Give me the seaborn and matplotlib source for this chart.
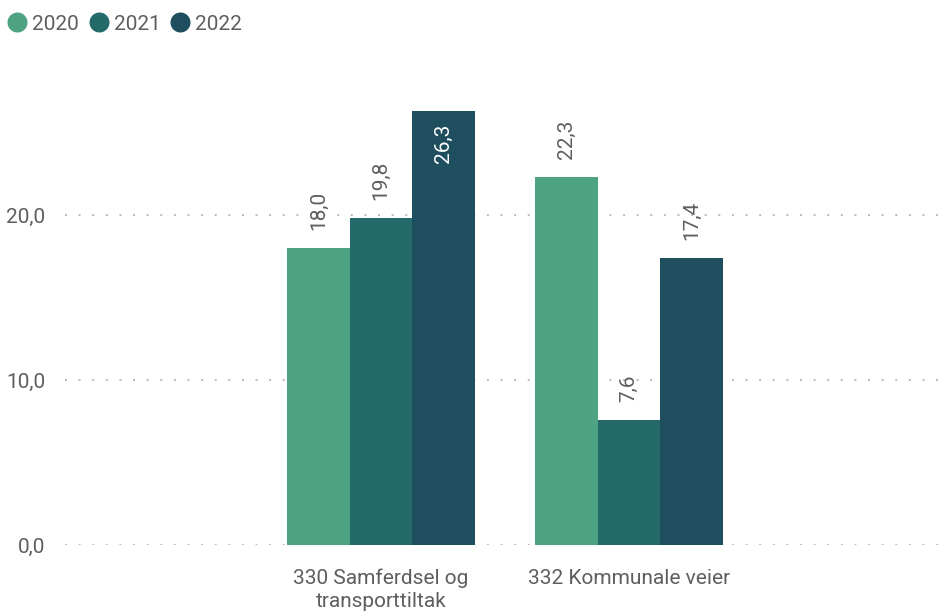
import matplotlib
matplotlib.use("Agg")
import matplotlib.pyplot as plt
from matplotlib.lines import Line2D
import seaborn as sns
import pandas as pd

# data
categories = ["330 Samferdsel og\ntransporttiltak", "332 Kommunale veier"]
years = ["2020", "2021", "2022"]
values_2020 = [18.0, 22.3]
values_2021 = [19.8, 7.6]
values_2022 = [26.3, 17.4]
y_ticks = [0, 10, 20]

colors = ["#4EA383", "#246A6B", "#1F4E5F"]
text_color = "#605E5C"
fs = 15

rows = []
for yr, vals in zip(years, [values_2020, values_2021, values_2022]):
    for cat, v in zip(categories, vals):
        rows.append({"Kategori": cat, "År": yr, "Verdi": v})
df = pd.DataFrame(rows)

sns.set_style("white")
plt.rcParams["font.family"] = ["Roboto", "DejaVu Sans"]

fig = plt.figure(figsize=(9.51, 6.14), dpi=100)
ax = fig.add_axes([65 / 951, 69 / 614, 880 / 951, 485 / 614])

sns.barplot(data=df, x="Kategori", y="Verdi", hue="År", order=categories,
            hue_order=years, palette=colors, width=0.756, gap=0,
            saturation=1, linewidth=0, ax=ax, legend=False)

ymax = 29.4
ax.set_ylim(0, ymax)
ax.set_xlim(-1.274, 2.274)

for y in y_ticks:
    ax.axhline(y, color="#BDBBB9", linewidth=1.4, linestyle=(0, (1, 6)), zorder=0)

# data labels
for cont in ax.containers:
    for bar in cont:
        h = bar.get_height()
        xc = bar.get_x() + bar.get_width() / 2
        lbl = f"{h:.1f}".replace(".", ",")
        if h > 24:
            ax.annotate(lbl, (xc, h), xytext=(0, -9), textcoords="offset points",
                        rotation=90, ha="center", va="top", color="white", fontsize=fs)
        else:
            ax.annotate(lbl, (xc, h), xytext=(0, 13), textcoords="offset points",
                        rotation=90, ha="center", va="bottom", color=text_color, fontsize=fs)

ax.set_yticks(y_ticks)
ax.set_yticklabels([f"{v:.1f}".replace(".", ",") for v in y_ticks])
ax.tick_params(axis="y", length=0, pad=14, labelsize=fs, labelcolor=text_color)
ax.tick_params(axis="x", length=0, pad=17, labelsize=fs, labelcolor=text_color)
for t in ax.get_xticklabels():
    t.set_linespacing(1.25)
ax.set_xlabel("")
ax.set_ylabel("")
sns.despine(ax=ax, left=True, bottom=True)

handles = [Line2D([0], [0], marker="o", linestyle="", markersize=14.4,
                  markerfacecolor=c, markeredgewidth=0) for c in colors]
fig.legend(handles, years, loc="center left", bbox_to_anchor=(6.6 / 951, 1 - 24 / 614),
           ncol=3, frameon=False, fontsize=fs, labelcolor=text_color,
           handlelength=1.0, handletextpad=0.22, columnspacing=0.45,
           borderpad=0, borderaxespad=0)

fig.savefig("out.png", dpi=100)
